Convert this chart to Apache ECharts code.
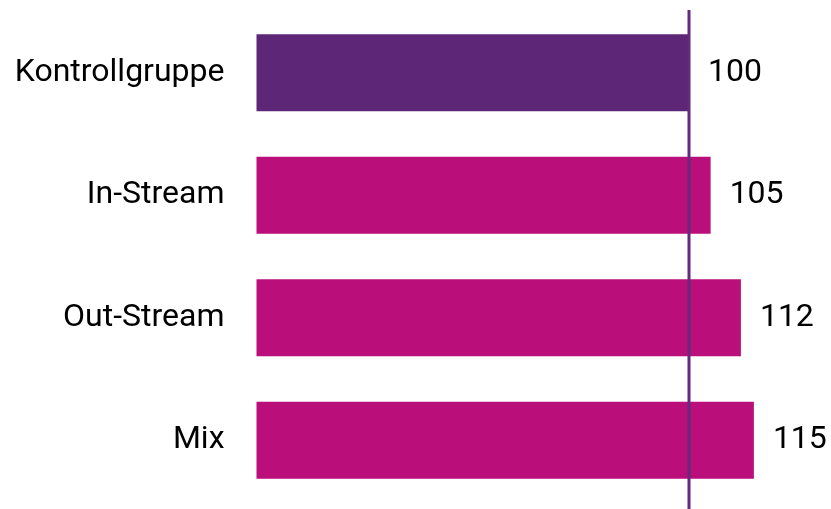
<!DOCTYPE html>
<html><head><meta charset="utf-8">
<script src="https://cdn.jsdelivr.net/npm/echarts@6/dist/echarts.min.js"></script>
<style>html,body{margin:0;padding:0;background:#fff}#c{width:831px;height:509px}</style>
</head><body><div id="c"></div>
<script>
const categories = ['Kontrollgruppe', 'In-Stream', 'Out-Stream', 'Mix'];
const values = [100, 105, 112, 115];
const colors = ['#5E2677', '#BA0E7B', '#BA0E7B', '#BA0E7B'];
const refValue = 100;

const chart = echarts.init(document.getElementById('c'), null, {renderer: 'canvas'});
const L = 256.5, R = 831 - (256.5 + 130 * 4.325);
chart.setOption({
  animation: false,
  grid: [
    {left: L, right: R, top: 11.5, bottom: 7.5},
    {left: L, right: R, top: 10, bottom: 0}
  ],
  xAxis: [
    {gridIndex: 0, type: 'value', min: 0, max: 130, show: false},
    {gridIndex: 1, type: 'value', min: 0, max: 130, show: false}
  ],
  yAxis: [
    {gridIndex: 0, type: 'category', data: categories, inverse: true,
     axisLine: {show: false}, axisTick: {show: false}, splitLine: {show: false},
     axisLabel: {fontFamily: 'Roboto', fontSize: 32, color: '#000', margin: 32}},
    {gridIndex: 1, type: 'value', min: 0, max: 1, show: false}
  ],
  series: [
    {type: 'bar', xAxisIndex: 0, yAxisIndex: 0, barWidth: '63%',
     data: values.map((v, i) => ({value: v, itemStyle: {color: colors[i]}})),
     label: {show: true, position: 'right', distance: 19, fontFamily: 'Roboto', fontSize: 32, color: '#000'}},
    {type: 'line', xAxisIndex: 1, yAxisIndex: 1, symbol: 'none',
     lineStyle: {color: '#642A7E', width: 3}, data: [[refValue, 0], [refValue, 1]]}
  ]
});
</script></body></html>
